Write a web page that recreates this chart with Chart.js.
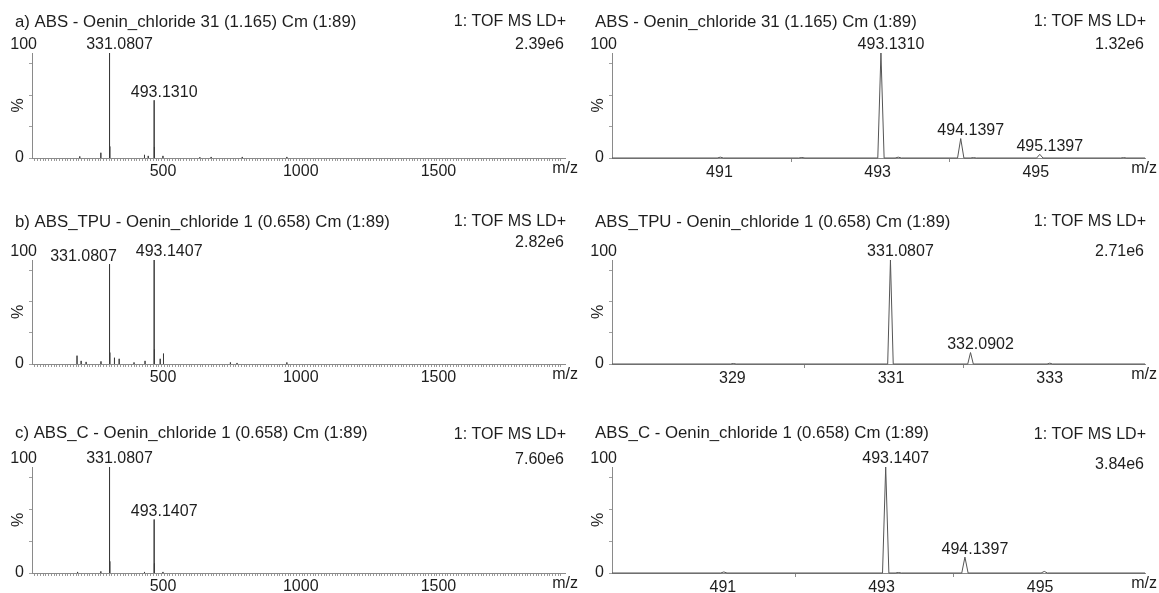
<!DOCTYPE html>
<html>
<head>
<meta charset="utf-8">
<script src="https://cdn.jsdelivr.net/npm/chart.js@4.4.0/dist/chart.umd.min.js"></script>
<style>
  body { margin: 0; background: #fff; }
  #wrap { position: relative; width: 1159px; height: 593px; overflow: hidden; }
  #wrap canvas { position: absolute; }
</style>
</head>
<body>
<div id="wrap"></div>
<script>
// header texts
var titlesLeft = ["a) ABS - Oenin_chloride 31 (1.165) Cm (1:89)",
                  "b) ABS_TPU - Oenin_chloride 1 (0.658) Cm (1:89)",
                  "c) ABS_C - Oenin_chloride 1 (0.658) Cm (1:89)"];
var titlesRight = ["ABS - Oenin_chloride 31 (1.165) Cm (1:89)",
                   "ABS_TPU - Oenin_chloride 1 (0.658) Cm (1:89)",
                   "ABS_C - Oenin_chloride 1 (0.658) Cm (1:89)"];
var scanFunction = "1: TOF MS LD+";
var baseIntLeft = ["2.39e6", "2.82e6", "7.60e6"];
var baseIntRight = ["1.32e6", "2.71e6", "3.84e6"];

// full range spectra (centroid), m/z and relative intensity (%)
var mzA  = [223, 299.5, 331.0807, 332.08, 458, 471.6, 493.1310, 494.14, 525, 659, 700, 813, 975];
var intA = [1.5, 5, 100, 11, 3, 2, 55, 10.5, 2, 0.7, 1, 1, 1];
var mzB  = [213, 228, 246, 300, 331.0807, 332.08, 349, 366, 420, 460, 493.1407, 494.14, 515, 527, 770, 794, 975];
var intB = [8, 3, 2, 2.5, 96, 11, 6, 5, 1.5, 3, 100, 14, 5, 10, 1.5, 1, 1.5];
var mzC  = [215, 299.5, 331.0807, 332.08, 458, 493.1407, 494.14, 525];
var intC = [1, 1.5, 100, 11, 1, 50.5, 9, 1];

// zoomed spectra (profile)
var mzZA  = [491.10, 492.13, 493.1310, 493.35, 494.1397, 494.30, 495.1397, 496.20];
var intZA = [0.8, 0.5, 100, 0.8, 18.5, 0.4, 3.5, 0.4];
var mzZB  = [329.10, 331.0807, 332.0902, 333.09];
var intZB = [0.5, 100, 11, 0.8];
var mzZC  = [491.10, 493.1407, 493.30, 494.1397, 495.14];
var intZC = [1, 100, 0.5, 15, 1.5];

// peaks that carry an m/z label
var labelledA = [331.0807, 493.1310];
var labelledB = [331.0807, 493.1407];
var labelledC = [331.0807, 493.1407];
var labelledZA = [493.1310, 494.1397, 495.1397];
var labelledZB = [331.0807, 332.0902];
var labelledZC = [493.1407, 494.1397];

// tick labels
var fullTicks = [500, 1000, 1500];
var zoomTicksA = [491, 493, 495];
var zoomTicksB = [329, 331, 333];
var zoomTicksC = [491, 493, 495];

var FONT = "'Liberation Sans', Arial, sans-serif";
var TEXT = "#1e1e1e";
var AXIS = "#8a8a8a";

function stickPoints(mz, inten) {
  var pts = [];
  for (var i = 0; i < mz.length; i++) {
    pts.push({x: mz[i], y: 0}, {x: mz[i], y: inten[i]}, {x: mz[i], y: 0}, {x: mz[i], y: null});
  }
  return pts;
}

function profilePoints(mz, inten, range, hw) {
  var pts = [{x: range[0], y: 0}];
  for (var i = 0; i < mz.length; i++) {
    pts.push({x: mz[i] - hw, y: 0}, {x: mz[i], y: inten[i]}, {x: mz[i] + hw, y: 0});
  }
  pts.push({x: range[1], y: 0});
  return pts;
}

function isInt(v) { return Math.abs(v - Math.round(v)) < 1e-6; }

// text drawn around each plot: headers, "100", m/z and peak labels
var spectrumText = {
  id: "spectrumText",
  afterDraw: function (chart) {
    var o = chart.options.plugins.spectrumText;
    var ctx = chart.ctx, ca = chart.chartArea;
    var xs = chart.scales.x, ys = chart.scales.y;
    ctx.save();
    ctx.fillStyle = TEXT;
    ctx.textBaseline = "middle";
    ctx.textAlign = "left";
    ctx.font = "16.8px " + FONT;
    ctx.fillText(o.title, 15, o.titleY);
    ctx.font = "16px " + FONT;
    ctx.textAlign = "right";
    ctx.fillText(scanFunction, 566, o.tofY);
    ctx.fillText(o.baseInt, 564, o.intY);
    ctx.fillText("100", ca.left + 5, ca.top - 8);
    ctx.fillText("m/z", chart.width - 2, ca.bottom + 11);
    ctx.textAlign = "center";
    o.labels.forEach(function (mz, i) {
      var h = o.mz.indexOf(mz);
      var dx = o.shift ? o.shift[i] : 10;
      var x = xs.getPixelForValue(mz) + dx;
      var y = ys.getPixelForValue(o.inten[h]) - 8;
      ctx.fillText(mz.toFixed(4), x, y);
    });
    ctx.restore();
  }
};

function makePanel(p) {
  var canvas = document.createElement("canvas");
  canvas.style.left = p.left + "px";
  canvas.style.top = p.top + "px";
  canvas.width = p.w;
  canvas.height = p.h;
  canvas.style.width = p.w + "px";
  canvas.style.height = p.h + "px";
  document.getElementById("wrap").appendChild(canvas);

  var zoom = p.kind === "zoom";
  new Chart(canvas.getContext("2d"), {
    type: "line",
    data: {
      datasets: [{
        data: zoom ? profilePoints(p.mz, p.inten, p.range, p.hw) : stickPoints(p.mz, p.inten),
        borderColor: zoom ? "#555555" : "#3a3a3a",
        borderWidth: 1,
        pointRadius: 0,
        tension: 0,
        spanGaps: false,
        clip: 3
      }]
    },
    plugins: [spectrumText],
    options: {
      responsive: false,
      animation: false,
      events: [],
      layout: { padding: { top: p.padTop, right: p.padRight, left: 0, bottom: 0 } },
      plugins: {
        legend: { display: false },
        tooltip: { enabled: false },
        spectrumText: {
          title: p.title, titleY: p.titleY, tofY: p.tofY, baseInt: p.baseInt, intY: p.intY,
          labels: p.labels, mz: p.mz, inten: p.inten, shift: p.shift
        }
      },
      scales: {
        x: {
          type: "linear",
          min: p.range[0],
          max: p.range[1],
          border: { display: true, color: AXIS, width: 1 },
          grid: {
            drawOnChartArea: false,
            drawTicks: true,
            tickLength: zoom ? 4 : 3,
            tickColor: function (c) {
              var v = c.tick.value;
              if (zoom) return (isInt(v) && Math.round(v) % 2 === 0) ? AXIS : "rgba(0,0,0,0)";
              return isInt(v / 10) ? "#9a9a9a" : "rgba(0,0,0,0)";
            }
          },
          ticks: {
            stepSize: zoom ? 1 : 10,
            maxTicksLimit: 1000,
            autoSkip: false,
            maxRotation: 0,
            labelOffset: 7,
            padding: 1,
            color: TEXT,
            font: { family: FONT, size: 16 },
            callback: function (v) {
              for (var i = 0; i < p.ticks.length; i++) {
                if (Math.abs(v - p.ticks[i]) < 1e-6) return String(p.ticks[i]);
              }
              return "";
            }
          },
          afterFit: function (s) { s.height = p.xh; s.paddingLeft = 0; s.paddingRight = 0; }
        },
        y: {
          min: 0,
          max: 100,
          border: { display: true, color: AXIS, width: 1 },
          grid: { drawOnChartArea: false, drawTicks: true, tickLength: 3, tickColor: "#a0a0a0" },
          ticks: {
            stepSize: 10,
            padding: 5,
            color: TEXT,
            font: { family: FONT, size: 16 },
            callback: function (v) { return v === 0 ? "0" : ""; }
          },
          title: {
            display: true,
            text: "%",
            color: TEXT,
            font: { family: FONT, size: 16 },
            padding: { top: 9, bottom: 0 }
          },
          afterFit: function (s) { s.width = 32; }
        }
      }
    }
  });
}

var rows = [
  { top: 0,   h: 200, padTop: 53, xh: 42, titleY: 22, tofY: 22 },
  { top: 200, h: 200, padTop: 60, xh: 36, titleY: 22, tofY: 22 },
  { top: 400, h: 193, padTop: 67, xh: 20, titleY: 33, tofY: 35 }
];
var leftSets = [
  { mz: mzA, inten: intA, labels: labelledA, intY: 45 },
  { mz: mzB, inten: intB, labels: labelledB, intY: 43, shift: [-26, 15] },
  { mz: mzC, inten: intC, labels: labelledC, intY: 60 }
];
var rightSets = [
  { mz: mzZA, inten: intZA, labels: labelledZA, intY: 45, range: [489.73, 496.47], ticks: zoomTicksA, hw: 0.04 },
  { mz: mzZB, inten: intZB, labels: labelledZB, intY: 52, range: [327.57, 334.29], ticks: zoomTicksB, hw: 0.035 },
  { mz: mzZC, inten: intZC, labels: labelledZC, intY: 65, range: [489.69, 496.41], ticks: zoomTicksC, hw: 0.04 }
];

rows.forEach(function (r, i) {
  var L = leftSets[i], R = rightSets[i];
  makePanel({
    kind: "full", left: 0, top: r.top, w: 580, h: r.h, padTop: r.padTop, padRight: 15, xh: r.xh,
    title: titlesLeft[i], titleY: r.titleY, tofY: r.tofY, baseInt: baseIntLeft[i], intY: L.intY,
    mz: L.mz, inten: L.inten, labels: L.labels, shift: L.shift,
    range: [49.5, 1985], ticks: fullTicks
  });
  makePanel({
    kind: "zoom", left: 580, top: r.top, w: 579, h: r.h, padTop: r.padTop, padRight: 14, xh: r.xh,
    title: titlesRight[i], titleY: r.titleY, tofY: r.tofY, baseInt: baseIntRight[i], intY: R.intY,
    mz: R.mz, inten: R.inten, labels: R.labels, hw: R.hw,
    range: R.range, ticks: R.ticks
  });
});
</script>
</body>
</html>
